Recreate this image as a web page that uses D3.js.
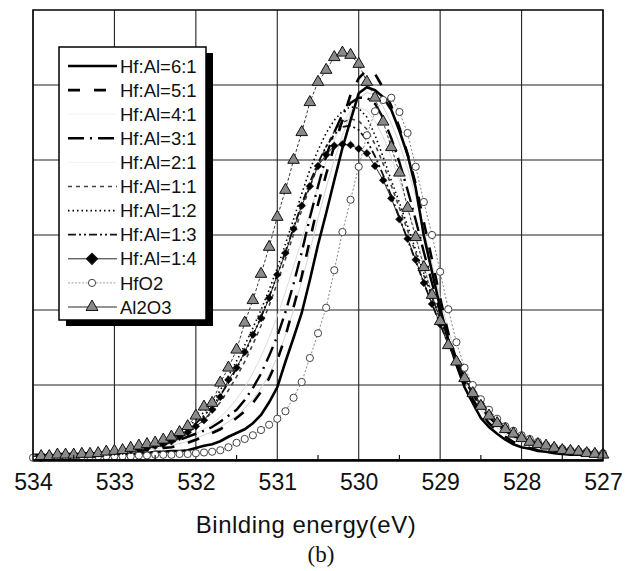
<!DOCTYPE html>
<html>
<head>
<meta charset="utf-8">
<script src="https://cdn.jsdelivr.net/npm/d3@7"></script>
<style>
	body { margin: 0; background: #fff; }
	text { font-family: "Liberation Sans", Arial, sans-serif; }
</style>
</head>
<body>
<div id="chart"></div>
<script>

// binding energy (eV), one point every 0.1 eV
var energy = [
	534.0,533.9,533.8,533.7,533.6,533.5,533.4,533.3,533.2,533.1,
	533.0,532.9,532.8,532.7,532.6,532.5,532.4,532.3,532.2,532.1,
	532.0,531.9,531.8,531.7,531.6,531.5,531.4,531.3,531.2,531.1,
	531.0,530.9,530.8,530.7,530.6,530.5,530.4,530.3,530.2,530.1,
	530.0,529.9,529.8,529.7,529.6,529.5,529.4,529.3,529.2,529.1,
	529.0,528.9,528.8,528.7,528.6,528.5,528.4,528.3,528.2,528.1,
	528.0,527.9,527.8,527.7,527.6,527.5,527.4,527.3,527.2,527.1,527.0
];

// intensity (a.u.)
var hfal61 = [
	0.04,0.04,0.04,0.05,0.05,0.05,0.05,0.06,0.06,0.07,
	0.07,0.08,0.08,0.09,0.09,0.11,0.11,0.12,0.12,0.13,
	0.16,0.19,0.21,0.25,0.31,0.36,0.41,0.49,0.60,0.77,
	0.97,1.31,1.63,1.96,2.40,2.87,3.29,3.73,4.16,4.53,
	4.89,4.97,4.93,4.84,4.67,4.39,4.07,3.63,2.99,2.51,
	2.03,1.60,1.27,0.97,0.76,0.56,0.44,0.35,0.27,0.21,
	0.17,0.15,0.12,0.11,0.09,0.08,0.07,0.07,0.07,0.05,0.05
];
var hfal51 = [
	0.07,0.07,0.07,0.08,0.08,0.08,0.09,0.09,0.09,0.11,
	0.11,0.11,0.12,0.12,0.13,0.15,0.16,0.17,0.20,0.23,
	0.27,0.31,0.36,0.41,0.48,0.56,0.65,0.76,0.91,1.09,
	1.33,1.65,2.04,2.45,2.93,3.41,3.81,4.19,4.53,4.87,
	5.09,5.20,5.15,4.96,4.72,4.43,4.08,3.68,3.17,2.67,
	2.16,1.69,1.33,1.04,0.81,0.63,0.49,0.39,0.31,0.24,
	0.20,0.16,0.13,0.12,0.11,0.09,0.09,0.08,0.08,0.07,0.07
];
var hfal41 = [
	0.06,0.06,0.06,0.07,0.07,0.07,0.08,0.08,0.09,0.10,
	0.10,0.11,0.12,0.13,0.14,0.15,0.17,0.19,0.22,0.25,
	0.29,0.33,0.38,0.44,0.51,0.59,0.69,0.81,0.96,1.14,
	1.37,1.66,2.00,2.38,2.79,3.22,3.63,4.00,4.33,4.62,
	4.82,4.90,4.86,4.71,4.49,4.22,3.89,3.51,3.07,2.62,
	2.16,1.73,1.37,1.08,0.85,0.67,0.53,0.43,0.35,0.29,
	0.24,0.20,0.17,0.15,0.13,0.12,0.11,0.10,0.09,0.08,0.08
];
var hfal31 = [
	0.05,0.05,0.07,0.07,0.07,0.08,0.08,0.09,0.09,0.11,
	0.12,0.13,0.15,0.16,0.17,0.19,0.21,0.24,0.27,0.31,
	0.35,0.39,0.44,0.51,0.59,0.67,0.80,0.96,1.15,1.39,
	1.65,1.97,2.35,2.77,3.23,3.65,4.05,4.37,4.61,4.76,
	4.83,4.83,4.75,4.56,4.29,3.97,3.60,3.20,2.77,2.36,
	1.96,1.60,1.32,1.08,0.88,0.71,0.57,0.47,0.39,0.32,
	0.27,0.23,0.20,0.17,0.15,0.13,0.12,0.11,0.09,0.08,0.08
];
var hfal21 = [
	0.05,0.05,0.06,0.06,0.06,0.07,0.07,0.08,0.08,0.09,
	0.10,0.11,0.12,0.13,0.15,0.17,0.19,0.22,0.26,0.30,
	0.35,0.41,0.48,0.57,0.68,0.81,0.97,1.16,1.38,1.63,
	1.92,2.24,2.58,2.94,3.30,3.65,3.98,4.27,4.50,4.65,
	4.70,4.66,4.52,4.31,4.04,3.73,3.38,3.00,2.61,2.23,
	1.87,1.55,1.28,1.05,0.86,0.70,0.57,0.46,0.38,0.32,
	0.27,0.23,0.20,0.17,0.15,0.13,0.12,0.11,0.10,0.09,0.08
];
var hfal11 = [
	0.04,0.04,0.05,0.05,0.05,0.07,0.07,0.08,0.08,0.09,
	0.09,0.11,0.12,0.13,0.15,0.17,0.20,0.24,0.29,0.36,
	0.44,0.53,0.64,0.77,0.93,1.11,1.31,1.54,1.79,2.06,
	2.36,2.68,3.01,3.33,3.64,3.92,4.18,4.38,4.50,4.55,
	4.52,4.41,4.21,3.95,3.66,3.36,3.06,2.76,2.46,2.17,
	1.88,1.60,1.35,1.13,0.94,0.78,0.64,0.53,0.44,0.37,
	0.31,0.26,0.22,0.19,0.17,0.15,0.13,0.12,0.11,0.10,0.09
];
var hfal12 = [
	0.05,0.05,0.05,0.07,0.07,0.07,0.08,0.08,0.09,0.09,
	0.11,0.12,0.13,0.15,0.17,0.20,0.24,0.29,0.36,0.44,
	0.53,0.64,0.77,0.93,1.12,1.32,1.53,1.76,2.00,2.27,
	2.56,2.88,3.21,3.55,3.87,4.13,4.36,4.53,4.65,4.71,
	4.69,4.57,4.33,4.04,3.73,3.43,3.12,2.80,2.49,2.19,
	1.89,1.60,1.36,1.13,0.95,0.77,0.64,0.53,0.44,0.37,
	0.32,0.27,0.23,0.20,0.17,0.15,0.13,0.12,0.11,0.09,0.08
];
var hfal13 = [
	0.05,0.05,0.06,0.06,0.07,0.07,0.08,0.08,0.09,0.10,
	0.11,0.12,0.13,0.15,0.17,0.19,0.23,0.27,0.33,0.40,
	0.49,0.59,0.71,0.86,1.03,1.22,1.43,1.66,1.91,2.18,
	2.47,2.78,3.10,3.41,3.70,3.96,4.18,4.34,4.44,4.46,
	4.40,4.26,4.05,3.80,3.52,3.23,2.94,2.65,2.36,2.08,
	1.81,1.55,1.32,1.11,0.93,0.77,0.63,0.52,0.43,0.36,
	0.30,0.26,0.22,0.19,0.17,0.15,0.13,0.12,0.11,0.10,0.09
];
var hfal14 = [
	0.05,0.05,0.07,0.07,0.07,0.08,0.08,0.09,0.09,0.11,
	0.11,0.12,0.13,0.15,0.16,0.19,0.21,0.25,0.31,0.37,
	0.45,0.53,0.67,0.84,1.07,1.23,1.44,1.67,1.89,2.16,
	2.47,2.76,3.08,3.39,3.65,3.92,4.07,4.19,4.21,4.20,
	4.15,4.09,3.92,3.73,3.49,3.21,2.95,2.67,2.36,2.08,
	1.81,1.53,1.31,1.09,0.91,0.75,0.61,0.51,0.43,0.36,
	0.31,0.25,0.23,0.20,0.17,0.15,0.13,0.12,0.11,0.09,0.08
];
var hfo2 = [
	0.03,0.03,0.04,0.04,0.04,0.04,0.05,0.05,0.05,0.05,
	0.05,0.05,0.05,0.06,0.06,0.07,0.07,0.07,0.08,0.08,
	0.09,0.10,0.11,0.13,0.17,0.23,0.28,0.33,0.40,0.47,
	0.55,0.65,0.83,1.04,1.36,1.69,2.03,2.53,3.04,3.47,
	3.91,4.33,4.65,4.80,4.83,4.64,4.36,3.91,3.44,3.00,
	2.51,2.01,1.57,1.23,1.00,0.81,0.67,0.55,0.45,0.39,
	0.33,0.28,0.24,0.20,0.17,0.15,0.13,0.12,0.11,0.09,0.09
];
var al2o3 = [
	0.05,0.05,0.05,0.07,0.07,0.07,0.08,0.08,0.09,0.11,
	0.12,0.13,0.16,0.19,0.21,0.23,0.27,0.31,0.37,0.45,
	0.59,0.71,0.76,1.03,1.23,1.47,1.83,2.13,2.48,2.84,
	3.24,3.60,4.00,4.37,4.77,5.04,5.20,5.37,5.43,5.40,
	5.28,5.04,4.83,4.51,4.17,3.83,3.36,2.97,2.57,2.20,
	1.85,1.53,1.31,1.09,0.89,0.72,0.59,0.49,0.41,0.35,
	0.29,0.24,0.21,0.19,0.16,0.13,0.12,0.11,0.09,0.08,0.07
];

var seriesNames = ["Hf:Al=6:1", "Hf:Al=5:1", "Hf:Al=4:1", "Hf:Al=3:1", "Hf:Al=2:1",
	"Hf:Al=1:1", "Hf:Al=1:2", "Hf:Al=1:3", "Hf:Al=1:4", "HfO2", "Al2O3"];
var seriesValues = [hfal61, hfal51, hfal41, hfal31, hfal21,
	hfal11, hfal12, hfal13, hfal14, hfo2, al2o3];
var xTicks = [534, 533, 532, 531, 530, 529, 528, 527];
var xMinorTicks = [533.5, 532.5, 531.5, 530.5, 529.5, 528.5, 527.5];
var yGrid = [1, 2, 3, 4, 5];
var xTitle = "Binlding energy(eV)";
var caption = "(b)";

// line styles, same order as seriesNames
var styles = [
	{ stroke: "#000", width: 2.6, dash: null },
	{ stroke: "#000", width: 2.6, dash: "12,14" },
	{ stroke: "#d4d4d4", width: 1, dash: null },
	{ stroke: "#000", width: 2.4, dash: "16,6,2,6" },
	{ stroke: "#dcdcdc", width: 1, dash: null },
	{ stroke: "#444", width: 1.6, dash: "4,4" },
	{ stroke: "#000", width: 1.6, dash: "1.5,3" },
	{ stroke: "#111", width: 1.8, dash: "8,3,2,3,2,3" },
	{ stroke: "#111", width: 0.9, dash: null, marker: "diamond" },
	{ stroke: "#777", width: 0.9, dash: "2,2", marker: "circle" },
	{ stroke: "#222", width: 0.9, dash: "3,2", marker: "triangle" }
];
var legendStyles = styles.map(function(s, i) {
	// the 4:1 and 2:1 samples are nearly invisible in the original
	if (i === 2 || i === 4) return { stroke: "#f2f2f2", width: 1, dash: null };
	if (s.marker) return { stroke: s.stroke === "#777" ? "#999" : "#111", width: 0.9, dash: s.marker === "circle" ? "2,1.5" : null, marker: s.marker };
	return s;
});

var drawOrder = [2, 4, 5, 6, 7, 3, 1, 0, 9, 8, 10];

var svg, x, y;

var plot = { left: 33, right: 603, top: 10, bottom: 460 };

svg = d3.select("#chart").append("svg")
	.attr("width", 633)
	.attr("height", 571);

x = d3.scaleLinear().domain([534, 527]).range([plot.left, plot.right]);
y = d3.scaleLinear().domain([0, 6]).range([plot.bottom, plot.top]);

// grid
svg.append("g")
	.selectAll("line")
	.data(xTicks)
	.enter().append("line")
	.attr("x1", function(d) { return x(d); })
	.attr("x2", function(d) { return x(d); })
	.attr("y1", plot.top)
	.attr("y2", plot.bottom)
	.attr("stroke", "#222")
	.attr("stroke-width", 1.1);

svg.append("g")
	.selectAll("line")
	.data(yGrid)
	.enter().append("line")
	.attr("x1", plot.left)
	.attr("x2", plot.right)
	.attr("y1", function(d) { return y(d); })
	.attr("y2", function(d) { return y(d); })
	.attr("stroke", "#222")
	.attr("stroke-width", 1.1);

// curves
var curves = svg.append("g").attr("class", "curves");

var line = d3.line()
	.x(function(d) { return x(d[0]); })
	.y(function(d) { return y(d[1]); });

// diamonds are squares turned by 45 degrees, as in the original
var symbolFor = {
	diamond: d3.symbol().type(d3.symbolSquare).size(30),
	triangle: d3.symbol().type(d3.symbolTriangle).size(58)
};

var drawMarkers = function(g, pts, kind) {
	if (kind === "circle") {
		g.selectAll("circle")
			.data(pts)
			.enter().append("circle")
			.attr("cx", function(d) { return x(d[0]); })
			.attr("cy", function(d) { return y(d[1]); })
			.attr("r", 3.6)
			.attr("fill", "#fff")
			.attr("stroke", "#444")
			.attr("stroke-width", 1);
	} else {
		g.selectAll("path")
			.data(pts)
			.enter().append("path")
			.attr("transform", function(d) {
				return "translate(" + x(d[0]) + "," + y(d[1]) + ")" + (kind === "diamond" ? "rotate(45)" : "");
			})
			.attr("d", symbolFor[kind]())
			.attr("fill", kind === "triangle" ? "#8a8a8a" : "#000")
			.attr("stroke", "#111")
			.attr("stroke-width", kind === "triangle" ? 1 : 0.5);
	}
};

drawOrder.forEach(function(i) {
	var s = styles[i];
	var pts = energy.map(function(e, k) { return [e, seriesValues[i][k]]; });
	var g = curves.append("g");
	g.append("path")
		.datum(pts)
		.attr("d", line)
		.attr("fill", "none")
		.attr("stroke", s.stroke)
		.attr("stroke-width", s.width)
		.attr("stroke-dasharray", s.dash);
	if (s.marker) drawMarkers(g, pts, s.marker);
});

// frame
svg.append("rect")
	.attr("x", plot.left)
	.attr("y", plot.top)
	.attr("width", plot.right - plot.left)
	.attr("height", plot.bottom - plot.top)
	.attr("fill", "none")
	.attr("stroke", "#111")
	.attr("stroke-width", 1.6);

// x axis
var xAxis = d3.axisBottom(x)
	.tickValues(xTicks)
	.tickSize(0)
	.tickPadding(13.5)
	.tickFormat(d3.format("d"));

var axisG = svg.append("g")
	.attr("transform", "translate(0," + plot.bottom + ")")
	.call(xAxis);
axisG.select(".domain").attr("stroke", "#000").attr("stroke-width", 2.4);
axisG.selectAll("text")
	.attr("font-size", 23)
	.attr("fill", "#111")
	.style("font-family", "'Liberation Sans', Arial, sans-serif");

svg.append("g")
	.selectAll("line")
	.data(xMinorTicks)
	.enter().append("line")
	.attr("x1", function(d) { return x(d); })
	.attr("x2", function(d) { return x(d); })
	.attr("y1", plot.bottom)
	.attr("y2", plot.bottom - 5)
	.attr("stroke", "#111")
	.attr("stroke-width", 1.2);

svg.append("text")
	.attr("x", 306)
	.attr("y", 533)
	.attr("text-anchor", "middle")
	.attr("font-size", 24)
	.attr("letter-spacing", 0.5)
	.attr("fill", "#111")
	.text(xTitle);

svg.append("text")
	.attr("x", 321)
	.attr("y", 562)
	.attr("text-anchor", "middle")
	.attr("font-size", 23)
	.style("font-family", "'Liberation Serif', 'Times New Roman', serif")
	.attr("fill", "#111")
	.text(caption);

// legend
var legend = svg.append("g").attr("class", "legend");
var lg = { x: 59, y: 47, w: 147, h: 273, row: 24.1, first: 66 };

legend.append("rect")
	.attr("x", lg.x + 7)
	.attr("y", lg.y + 6)
	.attr("width", lg.w)
	.attr("height", lg.h)
	.attr("fill", "#000");
legend.append("rect")
	.attr("x", lg.x)
	.attr("y", lg.y)
	.attr("width", lg.w)
	.attr("height", lg.h)
	.attr("fill", "#fff")
	.attr("stroke", "#000")
	.attr("stroke-width", 1.5);

seriesNames.forEach(function(name, i) {
	var s = legendStyles[i];
	var cy = lg.first + i * lg.row;
	var row = legend.append("g");
	row.append("line")
		.attr("x1", 68)
		.attr("x2", 117)
		.attr("y1", cy)
		.attr("y2", cy)
		.attr("stroke", s.stroke)
		.attr("stroke-width", s.width)
		.attr("stroke-dasharray", s.dash);
	if (s.marker === "circle") {
		row.append("circle")
			.attr("cx", 92).attr("cy", cy).attr("r", 3.6)
			.attr("fill", "#fff").attr("stroke", "#444");
	} else if (s.marker === "triangle") {
		row.append("path")
			.attr("transform", "translate(92," + cy + ")")
			.attr("d", d3.symbol().type(d3.symbolTriangle).size(62)())
			.attr("fill", "#8a8a8a")
			.attr("stroke", "#111");
	} else if (s.marker === "diamond") {
		row.append("path")
			.attr("transform", "translate(92," + cy + ")rotate(45)")
			.attr("d", d3.symbol().type(d3.symbolSquare).size(64)())
			.attr("fill", "#000")
			.attr("stroke", "#111");
	}
	row.append("text")
		.attr("x", 120)
		.attr("y", cy)
		.attr("dy", "0.36em")
		.attr("font-size", 18.5)
		.attr("fill", "#111")
		.text(name);
});

</script>
</body>
</html>
